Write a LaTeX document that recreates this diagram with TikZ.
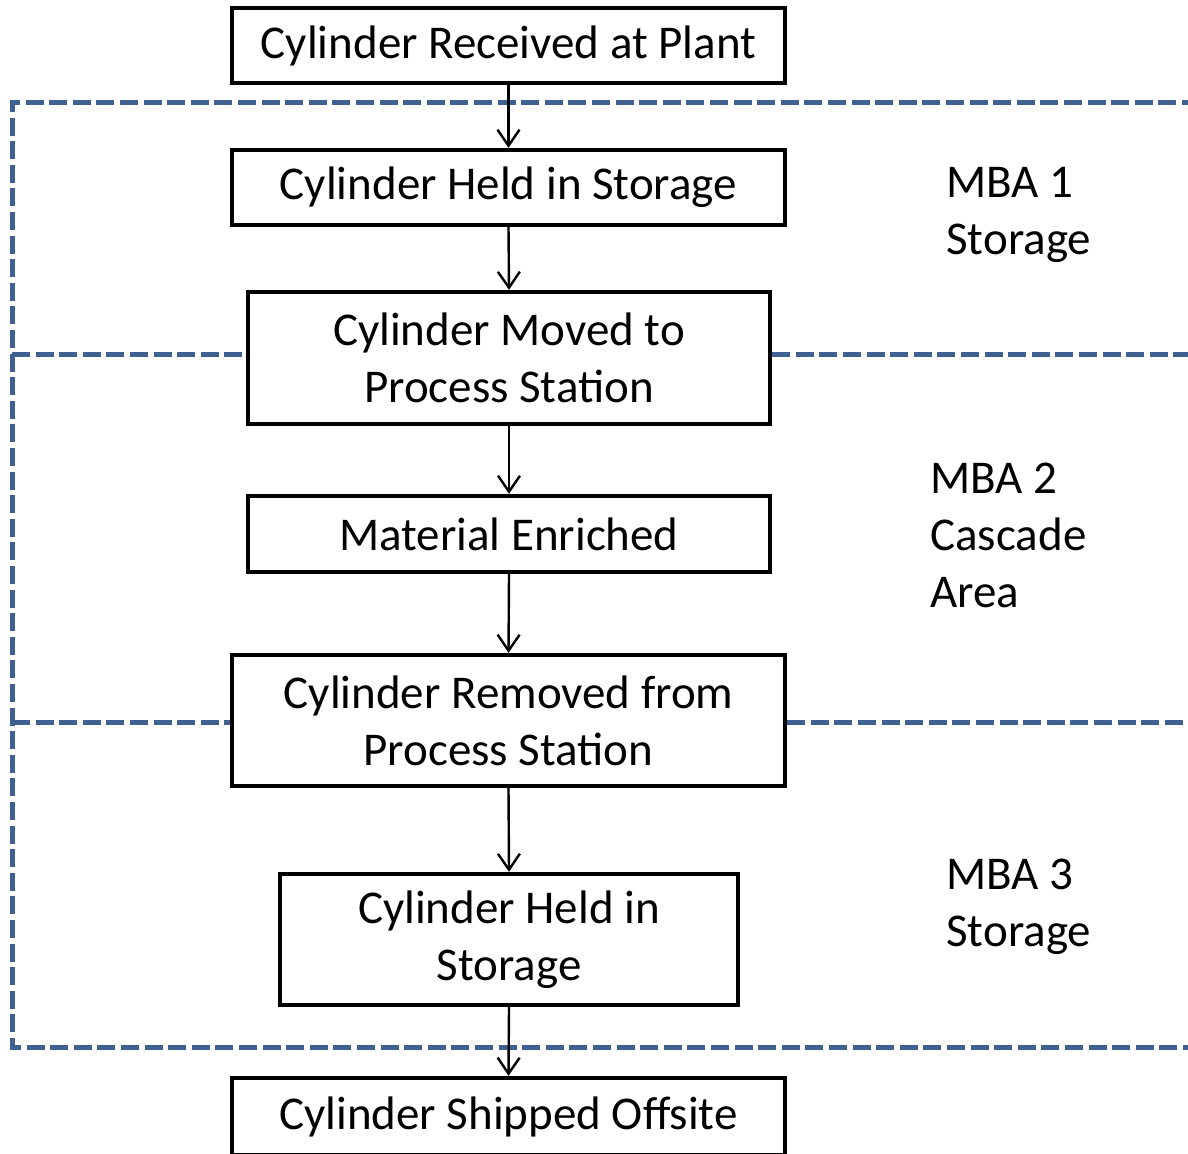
\documentclass[tikz,border=0pt]{standalone}
\usepackage{fontspec}
\setmainfont{Carlito}
\usetikzlibrary{arrows.meta}
\definecolor{zoneblue}{HTML}{3F6191}
\tikzset{
  stepbox/.style={draw=black, line width=2.2pt, fill=white, align=center,
    inner sep=0pt, font=\fontsize{23.5}{28.5}\selectfont},
  flow/.style={draw=black, line width=1.2pt, -{Straight Barb[length=8pt,width=11pt,line width=1.2pt]}},
  zone/.style={draw=zoneblue, line width=2.5pt, dash pattern=on 9pt off 2.8pt},
  zonelabel/.style={anchor=west, align=left, inner sep=0pt,
    font=\fontsize{23.5}{28.5}\selectfont},
}
\begin{document}
\begin{tikzpicture}[x=0.5pt, y=-0.5pt]
\useasboundingbox (0,0) rectangle (1188,1153);

% process steps
\node[stepbox, minimum width=276.5pt, minimum height=37.5pt] (recv) at (508.5,45.5) {Cylinder Received at Plant};
\node[stepbox, minimum width=276.5pt, minimum height=37.5pt] (hold1) at (508.5,187.5) {Cylinder Held in Storage};
\node[stepbox, minimum width=261pt, minimum height=66pt] (moved) at (509,358) {Cylinder Moved to\\Process Station};
\node[stepbox, minimum width=261pt, minimum height=38pt] (enrich) at (509,534) {Material Enriched};
\node[stepbox, minimum width=276.5pt, minimum height=65.5pt] (removed) at (508.5,720.5) {Cylinder Removed from\\Process Station};
\node[stepbox, minimum width=229pt, minimum height=65.5pt] (hold3) at (509,939.5) {Cylinder Held in\\Storage};
\node[stepbox, minimum width=276.5pt, minimum height=38.5pt] (ship) at (508.5,1116.5) {Cylinder Shipped Offsite};

% material balance area boundaries
\coordinate (ftl) at (12,102);
\coordinate (fbl) at (12,1047);
\coordinate (ftr) at (1200,102);
\coordinate (fbr) at (1200,1047);
\coordinate (splitA) at (12,354);
\coordinate (splitB) at (12,722);
\draw[zone] (ftr) -- (ftl) -- (fbl) -- (fbr);
\draw[zone] (splitA) -- (splitA -| moved.west);
\draw[zone] (splitA -| moved.east) -- (splitA -| ftr);
\draw[zone] (splitB) -- (splitB -| removed.west);
\draw[zone] (splitB -| removed.east) -- (splitB -| ftr);

% flow arrows
\draw[flow] (recv.south) -- (hold1.north);
\draw[flow] (hold1.south) -- (moved.north);
\draw[flow] (moved.south) -- (enrich.north);
\draw[flow] (enrich.south) -- (removed.north);
\draw[flow] (removed.south) -- (hold3.north);
\draw[flow] (hold3.south) -- (ship.north);

% area labels
\node[zonelabel] (mba1) at (946,215) {MBA 1\\Storage};
\node[zonelabel] (mba2) at (930,535) {MBA 2\\Cascade\\Area};
\node[zonelabel] (mba3) at (946,907) {MBA 3\\Storage};
\end{tikzpicture}
\end{document}
